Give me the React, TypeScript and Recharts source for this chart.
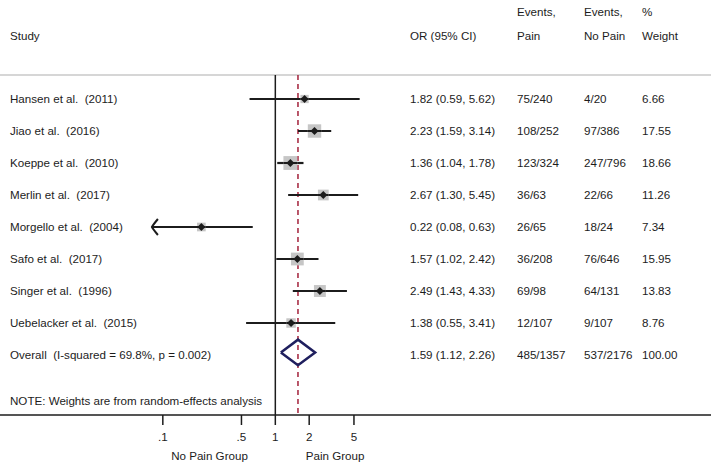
import React from "react";
import { ComposedChart, Scatter, XAxis, YAxis, ReferenceLine, ErrorBar } from "recharts";

// studies, odds ratios and 95% CI
const studies = [
  "Hansen et al.  (2011)",
  "Jiao et al.  (2016)",
  "Koeppe et al.  (2010)",
  "Merlin et al.  (2017)",
  "Morgello et al.  (2004)",
  "Safo et al.  (2017)",
  "Singer et al.  (1996)",
  "Uebelacker et al.  (2015)",
];
const oddsRatios = [1.82, 2.23, 1.36, 2.67, 0.22, 1.57, 2.49, 1.38];
const ciLower = [0.59, 1.59, 1.04, 1.3, 0.08, 1.02, 1.43, 0.55];
const ciUpper = [5.62, 3.14, 1.78, 5.45, 0.63, 2.42, 4.33, 3.41];
const painEvents = [75, 108, 123, 36, 26, 36, 69, 12];
const painTotal = [240, 252, 324, 63, 65, 208, 98, 107];
const noPainEvents = [4, 97, 247, 22, 18, 76, 64, 9];
const noPainTotal = [20, 386, 796, 66, 24, 646, 131, 107];
const weights = [6.66, 17.55, 18.66, 11.26, 7.34, 15.95, 13.83, 8.76];

// pooled estimate
const overallLabel = "Overall  (I-squared = 69.8%, p = 0.002)";
const overallOR = 1.59;
const overallLower = 1.12;
const overallUpper = 2.26;
const overallPain = [485, 1357];
const overallNoPain = [537, 2176];
const overallWeight = "100.00";

const noteText = "NOTE: Weights are from random-effects analysis";

// axis
const xTicks = [0.1, 0.5, 1, 2, 5];
const xTickLabels = [".1", ".5", "1", "2", "5"];
const groupLabels = ["No Pain Group", "Pain Group"];
const groupLabelAt = [0.26, 3.4];

// row ids on the y scale
const HEAD1 = -2.72;
const HEAD2 = -1.97;
const TOP = -0.75;
const OVERALL = 8;
const NOTE = 9.44;
const BOTTOM = 9.875;

const FONT = "'Liberation Sans', Arial, Helvetica, sans-serif";
const FS = 11.6;
const INK = "#1c1c1c";
const COL = { study: 10, or: 410, pain: 517, noPain: 584, weight: 642 };

const fmt = (v: number) => v.toFixed(2);

const studyPoints = studies.map((s, i) => ({
  x: oddsRatios[i],
  y: i,
  w: weights[i],
  err: [oddsRatios[i] - ciLower[i], ciUpper[i] - oddsRatios[i]],
}));

// CIs running past the lowest tick get an arrow
const arrowPoints = studies
  .map((s, i) => ({ x: ciLower[i], y: i }))
  .filter((p) => p.x < xTicks[0]);

const diamondPoints = [
  { x: overallLower, y: OVERALL - 0.08 },
  { x: overallOR, y: OVERALL - 0.48 },
  { x: overallUpper, y: OVERALL - 0.08 },
  { x: overallOR, y: OVERALL + 0.32 },
  { x: overallLower, y: OVERALL - 0.08 },
];

const StudyMarker = (props: any) => {
  const { cx, cy, payload } = props;
  const s = 3.2 * Math.sqrt(payload.w);
  return (
    <g>
      <rect x={cx - s / 2} y={cy - s / 2} width={s} height={s} fill="#c6c6c6" />
      <line x1={cx - s / 2} x2={cx + s / 2} y1={cy} y2={cy} stroke={INK} strokeWidth={2} />
      <path d={`M${cx - 4},${cy} L${cx},${cy - 4} L${cx + 4},${cy} L${cx},${cy + 4} Z`} fill={INK} />
    </g>
  );
};

const ArrowHead = (props: any) => {
  const { cx, cy } = props;
  return (
    <path
      d={`M${cx + 6},${cy - 8} Q${cx + 1},${cy - 2} ${cx},${cy} Q${cx + 1},${cy + 2} ${cx + 6},${cy + 8}`}
      fill="none"
      stroke={INK}
      strokeWidth={2}
    />
  );
};

const Txt = ({ x, y, children }: any) => (
  <text x={x} y={y} dy="0.35em" fontFamily={FONT} fontSize={FS} fill={INK} style={{ whiteSpace: "pre" }}>
    {children}
  </text>
);

const RowTick = (props: any) => {
  const { y, payload } = props;
  const v = payload.value;
  if (v === HEAD1) {
    return (
      <g>
        <Txt x={COL.pain} y={y}>Events,</Txt>
        <Txt x={COL.noPain} y={y}>Events,</Txt>
        <Txt x={COL.weight} y={y}>%</Txt>
      </g>
    );
  }
  if (v === HEAD2) {
    return (
      <g>
        <Txt x={COL.study} y={y}>Study</Txt>
        <Txt x={COL.or} y={y}>OR (95% CI)</Txt>
        <Txt x={COL.pain} y={y}>Pain</Txt>
        <Txt x={COL.noPain} y={y}>No Pain</Txt>
        <Txt x={COL.weight} y={y}>Weight</Txt>
      </g>
    );
  }
  if (v === OVERALL) {
    return (
      <g>
        <Txt x={COL.study} y={y}>{overallLabel}</Txt>
        <Txt x={COL.or} y={y}>{`${fmt(overallOR)} (${fmt(overallLower)}, ${fmt(overallUpper)})`}</Txt>
        <Txt x={COL.pain} y={y}>{`${overallPain[0]}/${overallPain[1]}`}</Txt>
        <Txt x={COL.noPain} y={y}>{`${overallNoPain[0]}/${overallNoPain[1]}`}</Txt>
        <Txt x={COL.weight} y={y}>{overallWeight}</Txt>
      </g>
    );
  }
  if (v === NOTE) {
    return <Txt x={COL.study} y={y}>{noteText}</Txt>;
  }
  const i = v;
  if (i < 0 || i >= studies.length) return <g />;
  return (
    <g>
      <Txt x={COL.study} y={y}>{studies[i]}</Txt>
      <Txt x={COL.or} y={y}>{`${fmt(oddsRatios[i])} (${fmt(ciLower[i])}, ${fmt(ciUpper[i])})`}</Txt>
      <Txt x={COL.pain} y={y}>{`${painEvents[i]}/${painTotal[i]}`}</Txt>
      <Txt x={COL.noPain} y={y}>{`${noPainEvents[i]}/${noPainTotal[i]}`}</Txt>
      <Txt x={COL.weight} y={y}>{fmt(weights[i])}</Txt>
    </g>
  );
};

const AxisTick = (props: any) => {
  const { x, y, payload } = props;
  const v = payload.value;
  const gi = groupLabelAt.indexOf(v);
  if (gi >= 0) {
    return (
      <text x={x} y={y + 41} dy="0.35em" textAnchor="middle" fontFamily={FONT} fontSize={FS} fill={INK}>
        {groupLabels[gi]}
      </text>
    );
  }
  const ti = xTicks.indexOf(v);
  return (
    <g>
      <line x1={x} x2={x} y1={y} y2={y + 10} stroke={INK} strokeWidth={1.5} />
      <text x={x} y={y + 22} dy="0.35em" textAnchor="middle" fontFamily={FONT} fontSize={FS} fill={INK}>
        {xTickLabels[ti]}
      </text>
    </g>
  );
};

const rowTicks = [HEAD1, HEAD2, ...studies.map((s, i) => i), OVERALL, NOTE];
const axisTicks = [...xTicks, ...groupLabelAt].sort((a, b) => a - b);

export default function App() {
  return (
    <div style={{ position: "absolute", left: 0, top: 0, background: "#fff" }}>
      <ComposedChart width={711} height={462} margin={{ top: 0, right: 0, bottom: 0, left: -1 }}>
        <XAxis
          dataKey="x"
          type="number"
          scale="log"
          domain={[0.00357, 7460]}
          allowDataOverflow
          ticks={axisTicks}
          interval={0}
          tick={AxisTick}
          tickLine={false}
          tickSize={0}
          tickMargin={0}
          axisLine={{ stroke: INK, strokeWidth: 1.5 }}
          height={47}
        />
        <YAxis
          dataKey="y"
          type="number"
          domain={[-3.094, BOTTOM]}
          reversed
          allowDataOverflow
          width={1}
          ticks={rowTicks}
          interval={0}
          tick={RowTick}
          tickLine={false}
          tickSize={0}
          axisLine={false}
        />
        <ReferenceLine y={TOP} stroke="#c8c8c8" strokeWidth={1.5} />
        <ReferenceLine
          segment={[{ x: 1, y: TOP }, { x: 1, y: BOTTOM }]}
          stroke={INK}
          strokeWidth={1.5}
        />
        <ReferenceLine
          segment={[{ x: overallOR, y: TOP }, { x: overallOR, y: BOTTOM }]}
          stroke="#a3213a"
          strokeWidth={1.5}
          strokeDasharray="5 4"
        />
        <Scatter data={studyPoints} shape={StudyMarker} isAnimationActive={false}>
          <ErrorBar dataKey="err" direction="x" width={0} stroke={INK} strokeWidth={2.2} isAnimationActive={false} />
        </Scatter>
        <Scatter data={arrowPoints} shape={ArrowHead} isAnimationActive={false} />
        <Scatter
          data={diamondPoints}
          shape={() => <g />}
          line={{ stroke: "#1f1f5e", strokeWidth: 2.5, strokeLinejoin: "miter" }}
          lineType="joint"
          isAnimationActive={false}
        />
      </ComposedChart>
    </div>
  );
}
